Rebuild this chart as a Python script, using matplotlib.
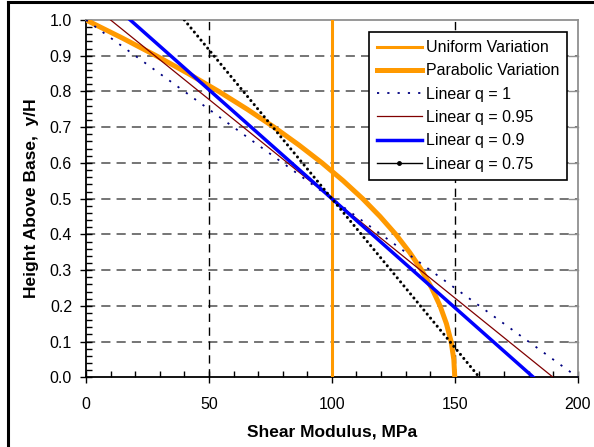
import matplotlib.pyplot as plt
from matplotlib.lines import Line2D
from matplotlib.ticker import MultipleLocator

plt.rcParams['font.family'] = ['Liberation Sans', 'DejaVu Sans']

# height above base y/H
y_lin = [1.0, 0.0]
y_par = [0.0, 0.05, 0.1, 0.15, 0.2, 0.25, 0.3, 0.35, 0.4, 0.45, 0.5,
         0.55, 0.6, 0.65, 0.7, 0.75, 0.8, 0.85, 0.9, 0.95, 1.0]

# shear modulus, MPa
g_uniform = [100, 100]
g_parabolic = [150, 149.6, 148.5, 146.6, 144, 140.6, 136.5, 131.6, 126, 119.6, 112.5,
               104.6, 96, 86.6, 76.5, 65.6, 54, 41.6, 28.5, 14.6, 0]
g_q100 = [0, 200]
g_q095 = [10, 190]
g_q090 = [18, 182]
g_q075 = [40, 160]

orange = '#FF9900'

fig = plt.figure(figsize=(5.94, 4.47), dpi=100)
ax = fig.add_axes([0.1448, 0.1559, 0.8278, 0.7994])

ax.plot(g_uniform, y_lin, color=orange, lw=2.2, label='Uniform Variation', zorder=3)
ax.plot(g_parabolic, y_par, color=orange, lw=3.6, label='Parabolic Variation', zorder=4)
ax.plot(g_q100, y_lin, color='#000080', lw=1.3, dashes=(1.2, 4.5), label='Linear q = 1', zorder=5)
ax.plot(g_q095, y_lin, color='#800000', lw=0.9, label='Linear q = 0.95', zorder=6)
ax.plot(g_q090, y_lin, color='#0000FF', lw=2.5, label='Linear q = 0.9', zorder=7)
ax.plot(g_q075, y_lin, color='black', lw=2.2, dashes=(0.01, 1.7), dash_capstyle='round',
        zorder=8)

ax.set_xlim(0, 200)
ax.set_ylim(0, 1.0)
ax.xaxis.set_major_locator(MultipleLocator(50))
ax.xaxis.set_minor_locator(MultipleLocator(10))
ax.yaxis.set_major_locator(MultipleLocator(0.1))
ax.yaxis.set_minor_locator(MultipleLocator(0.02))
ax.yaxis.set_major_formatter(plt.FuncFormatter(lambda v, p: f'{v:.1f}'))

ax.tick_params(which='major', direction='inout', length=8, width=1, labelsize=11.5, pad=6)
ax.tick_params(axis='x', which='major', pad=10)
ax.tick_params(which='minor', direction='in', length=4, width=1)

for s in ['left', 'bottom']:
    ax.spines[s].set_linewidth(1.3)
for s in ['top', 'right']:
    ax.spines[s].set_color('#909090')
    ax.spines[s].set_linewidth(1.3)

# dashed grid lines
for yv in [0.1, 0.2, 0.3, 0.4, 0.5, 0.6, 0.7, 0.8, 0.9]:
    ax.axhline(yv, color='#505050', lw=1.1, dashes=(6, 4), zorder=1)
for xv in [50, 100, 150]:
    ax.axvline(xv, color='black', lw=1.0, dashes=(6, 4), zorder=1)

# short inward ticks on the right side
for yv in [0.1, 0.2, 0.3, 0.4, 0.5, 0.6, 0.7, 0.8, 0.9]:
    ax.plot([196.5, 200], [yv, yv], color='#909090', lw=1, zorder=2, clip_on=False)

ax.set_xlabel('Shear Modulus, MPa', fontsize=12.5, fontweight='bold', labelpad=9)
ax.set_ylabel('Height Above Base,  y/H', fontsize=12.5, fontweight='bold', labelpad=8)

handles, labels = ax.get_legend_handles_labels()
handles.append(Line2D([], [], color='black', lw=1, marker='o', markersize=2.5))
labels.append('Linear q = 0.75')
leg = ax.legend(handles, labels, loc='upper right', bbox_to_anchor=(0.978, 0.966),
                borderaxespad=0, fontsize=11.5, fancybox=False, framealpha=1,
                edgecolor='black', handlelength=2.8, handletextpad=0.25,
                labelspacing=0.52, borderpad=0.5, markerscale=1, numpoints=1)
leg.get_frame().set_linewidth(1.2)
leg.set_zorder(10)

# outer frame edges
fig.add_artist(Line2D([7.5 / 594, 1.0], [1 - 1.5 / 447, 1 - 1.5 / 447], color='black', lw=2.2,
                      transform=fig.transFigure))
fig.add_artist(Line2D([7.5 / 594, 7.5 / 594], [0, 1 - 1.5 / 447], color='black', lw=2.2,
                      transform=fig.transFigure))

fig.savefig('out.png', dpi=100)
